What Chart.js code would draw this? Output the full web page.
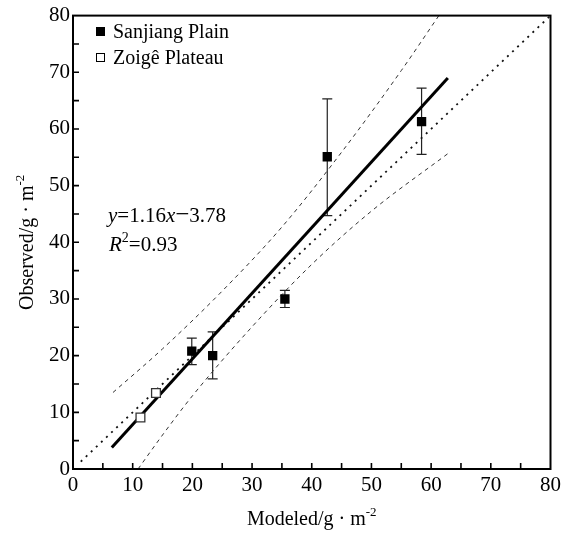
<!DOCTYPE html>
<html>
<head>
<meta charset="utf-8">
<script src="https://cdn.jsdelivr.net/npm/chart.js@4.4.1/dist/chart.umd.min.js"></script>
<style>
  html, body { margin: 0; padding: 0; background: #fff; font-family: "Liberation Serif", serif; }
  #wrap { width: 565px; height: 536px; }
</style>
</head>
<body>
<div id="wrap"><canvas id="myChart" width="565" height="536"></canvas></div>
<script>
// values
const sanjiangX = [19.9, 23.4, 35.5, 42.6, 58.4];
const sanjiangY = [20.8, 20.0, 30.0, 55.1, 61.3];
const sanjiangLow = [18.4, 15.9, 28.5, 44.7, 55.5];
const sanjiangHigh = [23.1, 24.2, 31.5, 65.3, 67.2];
const zoigeX = [11.3, 13.9];
const zoigeY = [9.1, 13.4];
const fitX = [6.5, 62.8];
const fitY = [3.8, 69.0];
const oneToOneX = [1.3, 80];
const oneToOneY = [1.3, 80];
const upperX = [6.7, 15, 25, 35, 45, 55, 61.3];
const upperY = [13.5, 21.2, 31.4, 42.7, 55.9, 70.3, 80];
const lowerX = [10.9, 15, 20, 30, 40, 50, 63];
const lowerY = [0, 6.0, 12.9, 25.1, 36.1, 45.5, 55.8];
const seriesNames = ['Sanjiang Plain', 'Zoig\u00ea Plateau'];
const axisMin = 0, axisMax = 80, labelStep = 10, tickStep = 5;

const SERIF = '"Liberation Serif", "DejaVu Serif", serif';

const toPoints = (xs, ys) => xs.map((x, i) => ({ x: x, y: ys[i] }));

// draws a run of text pieces with different fonts / offsets
const drawRich = (ctx, parts, x, y, measureOnly) => {
    let cx = x;
    parts.forEach(p => {
        ctx.font = p.font;
        if (!measureOnly) ctx.fillText(p.t, cx + (p.dx || 0), y + (p.dy || 0));
        cx += ctx.measureText(p.t).width + (p.dx || 0);
    });
    return cx - x;
};

const decorPlugin = {
    id: 'decor',
    beforeDatasetsDraw(chart) {
        const ctx = chart.ctx;
        const xs = chart.scales.x, ys = chart.scales.y;
        // error bars
        ctx.save();
        ctx.strokeStyle = '#222';
        ctx.lineWidth = 1.2;
        sanjiangX.forEach((v, i) => {
            const px = xs.getPixelForValue(v);
            const top = ys.getPixelForValue(sanjiangHigh[i]);
            const bot = ys.getPixelForValue(sanjiangLow[i]);
            ctx.beginPath();
            ctx.moveTo(px, top); ctx.lineTo(px, bot);
            ctx.moveTo(px - 5, top); ctx.lineTo(px + 5, top);
            ctx.moveTo(px - 5, bot); ctx.lineTo(px + 5, bot);
            ctx.stroke();
        });
        ctx.restore();
    },
    afterDraw(chart) {
        const ctx = chart.ctx;
        const a = chart.chartArea;
        const xs = chart.scales.x, ys = chart.scales.y;
        ctx.save();
        // frame
        ctx.strokeStyle = '#000';
        ctx.lineWidth = 2;
        ctx.strokeRect(a.left, a.top, a.right - a.left, a.bottom - a.top);
        // inward ticks
        ctx.lineWidth = 1.6;
        ctx.beginPath();
        for (let v = axisMin + tickStep; v < axisMax; v += tickStep) {
            const px = xs.getPixelForValue(v);
            ctx.moveTo(px, a.bottom); ctx.lineTo(px, a.bottom - 6);
            const py = ys.getPixelForValue(v);
            ctx.moveTo(a.left, py); ctx.lineTo(a.left + 6, py);
        }
        ctx.stroke();

        ctx.fillStyle = '#000';
        ctx.textBaseline = 'alphabetic';
        ctx.textAlign = 'left';
        // legend
        ctx.fillRect(96, 27, 9, 9);
        ctx.fillStyle = '#fff';
        ctx.fillRect(96, 53, 9, 9);
        ctx.strokeStyle = '#000';
        ctx.lineWidth = 1;
        ctx.strokeRect(96.5, 53.5, 8, 8);
        ctx.fillStyle = '#000';
        ctx.font = '20px ' + SERIF;
        ctx.fillText(seriesNames[0], 113, 38);
        ctx.fillText(seriesNames[1], 113, 64);

        // regression text
        const reg = '21px ' + SERIF, ita = 'italic 21px ' + SERIF;
        drawRich(ctx, [
            { t: 'y', font: ita },
            { t: '=1.16', font: reg },
            { t: 'x', font: ita },
            { t: '\u2212', font: '25px ' + SERIF, dx: 0 },
            { t: '3.78', font: reg }
        ], 108, 222);
        drawRich(ctx, [
            { t: 'R', font: ita },
            { t: '2', font: '14px ' + SERIF, dy: -9 },
            { t: '=0.93', font: reg }
        ], 109, 251);

        // axis titles
        const title = [
            { t: '', font: '20px ' + SERIF },
            { t: '/g \u00b7 m', font: '20px ' + SERIF },
            { t: '-2', font: '13px ' + SERIF, dy: -9 }
        ];
        title[0].t = 'Modeled';
        let w = drawRich(ctx, title, 0, 0, true);
        drawRich(ctx, title, (a.left + a.right) / 2 - w / 2, 525);

        title[0].t = 'Observed';
        w = drawRich(ctx, title, 0, 0, true);
        ctx.translate(33, (a.top + a.bottom) / 2);
        ctx.rotate(-Math.PI / 2);
        drawRich(ctx, title, -w / 2, 0);
        ctx.restore();
    }
};

const lineStyle = (pts, dash, width, color) => ({
    type: 'scatter',
    data: pts,
    showLine: true,
    borderColor: color,
    borderWidth: width,
    borderDash: dash,
    pointRadius: 0,
    fill: false
});

new Chart('myChart', {
    type: 'scatter',
    data: {
        datasets: [
            {
                label: seriesNames[0],
                data: toPoints(sanjiangX, sanjiangY),
                pointStyle: 'rect',
                pointRadius: 6.6,
                backgroundColor: '#000',
                borderColor: '#000',
                borderWidth: 0
            },
            {
                label: seriesNames[1],
                data: toPoints(zoigeX, zoigeY),
                pointStyle: 'rect',
                pointRadius: 6.2,
                backgroundColor: '#fff',
                borderColor: '#333',
                borderWidth: 1.3
            },
            lineStyle(toPoints(fitX, fitY), [], 3, '#000'),
            lineStyle(toPoints(oneToOneX, oneToOneY), [2, 5], 1.8, '#111'),
            Object.assign(lineStyle(toPoints(upperX, upperY), [4, 4], 1, '#333'), { cubicInterpolationMode: 'monotone' }),
            Object.assign(lineStyle(toPoints(lowerX, lowerY), [4, 4], 1, '#333'), { cubicInterpolationMode: 'monotone' })
        ]
    },
    options: {
        responsive: false,
        animation: false,
        layout: { padding: { top: 13, right: 13, left: 0, bottom: 0 } },
        plugins: { legend: { display: false }, tooltip: { enabled: false } },
        scales: {
            x: {
                type: 'linear',
                min: axisMin, max: axisMax,
                grid: { display: false, drawTicks: false },
                border: { display: false },
                ticks: { stepSize: labelStep, padding: 4, color: '#000', font: { family: SERIF, size: 21 } },
                afterFit: (s) => { s.height = 67; }
            },
            y: {
                min: axisMin, max: axisMax,
                grid: { display: false, drawTicks: false },
                border: { display: false },
                ticks: { stepSize: labelStep, padding: 3, color: '#000', font: { family: SERIF, size: 21 } },
                afterFit: (s) => { s.width = 73; }
            }
        }
    },
    plugins: [decorPlugin]
});
</script>
</body>
</html>
